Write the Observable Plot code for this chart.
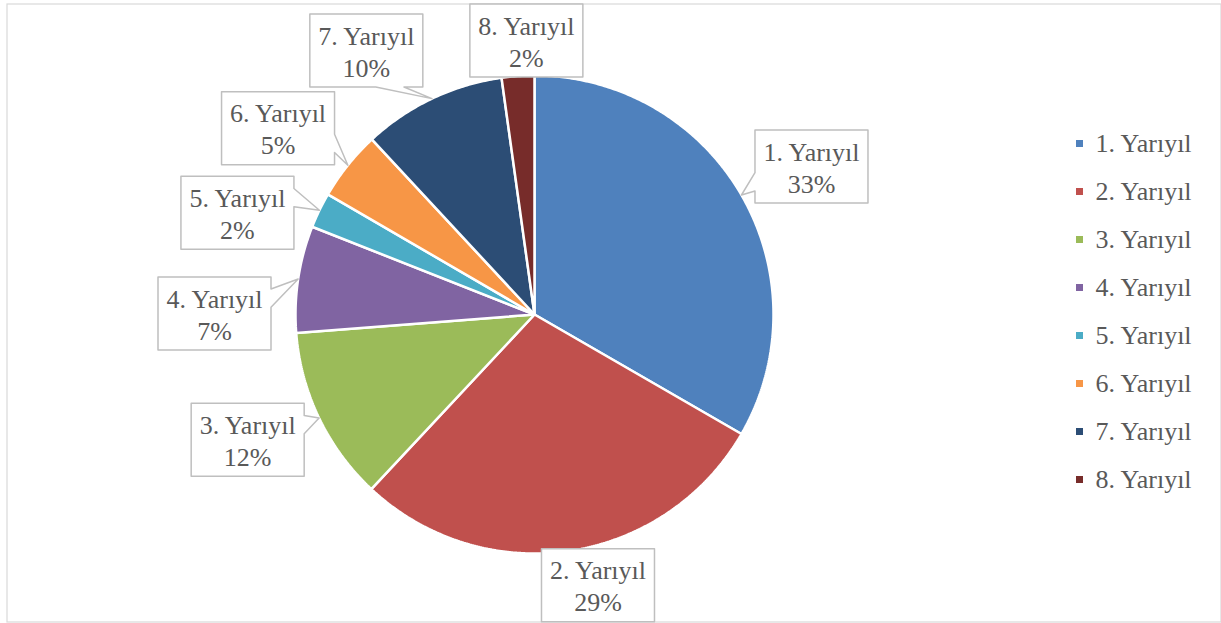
<!DOCTYPE html>
<html><head><meta charset="utf-8">
<script src="https://cdn.jsdelivr.net/npm/d3@7"></script>
<script src="https://cdn.jsdelivr.net/npm/@observablehq/plot@0.6"></script>
<style>body{margin:0;background:#fff;overflow:hidden}</style>
</head><body><div id="chart"></div>
<script>
// ---- data ----
const categories = ["1. Yarıyıl","2. Yarıyıl","3. Yarıyıl","4. Yarıyıl","5. Yarıyıl","6. Yarıyıl","7. Yarıyıl","8. Yarıyıl"];
const shares = [33.3, 28.6, 11.8, 7.2, 2.4, 4.7, 9.7, 2.2];
const colors = ["#4F81BD","#C0504D","#9BBB59","#8064A2","#4BACC6","#F79646","#2C4D75","#772C2A"];
// ---- label layout (degrees clockwise from top, distance from pie centre) ----
const labelAngles = [61.9, 166.8, 246.4, 270.2, 288.9, 306.0, 327.5, 358.3];
const labelDist = [314, 278, 313, 320, 314, 317, 313, 274];

const W = 1221, H = 623, cx = 534, cy = 314, R = 239;
const boxW = 113, boxH = 73;
const font = "Liberation Serif";
const total = d3.sum(shares);
const arcs = d3.pie().sort(null).value(d => d)(shares);
const toXY = (a, r) => [cx + r * Math.sin(a), cy - r * Math.cos(a)];

const slicePts = [];
arcs.forEach((a, i) => {
  slicePts.push({k: categories[i], x: cx, y: cy});
  const n = Math.max(2, Math.ceil((a.endAngle - a.startAngle) / (Math.PI / 360)));
  for (let j = 0; j <= n; j++) {
    const t = a.startAngle + (a.endAngle - a.startAngle) * j / n;
    const [x, y] = toXY(t, R);
    slicePts.push({k: categories[i], x, y});
  }
});

const calloutPts = [], labels = [];
arcs.forEach((a, i) => {
  const mid = (a.startAngle + a.endAngle) / 2;
  const [tx, ty] = toXY(mid, R);
  const [bx, by] = toXY(labelAngles[i] * Math.PI / 180, labelDist[i]);
  const l = bx - boxW / 2, r = bx + boxW / 2, t = by - boxH / 2, b = by + boxH / 2;
  let pts;
  const inside = tx >= l && tx <= r && ty >= t && ty <= b;
  if (inside) {
    pts = [[l, t], [r, t], [r, b], [l, b]];
  } else {
    const dx = (tx - bx) / boxW, dy = (ty - by) / boxH;
    if (Math.abs(dx) > Math.abs(dy)) {
      const y1 = dy < 0 ? t + boxH * 2 / 12 : t + boxH * 7 / 12, y2 = y1 + boxH * 3 / 12;
      pts = dx > 0
        ? [[l, t], [r, t], [r, y1], [tx, ty], [r, y2], [r, b], [l, b]]
        : [[l, t], [r, t], [r, b], [l, b], [l, y2], [tx, ty], [l, y1]];
    } else {
      const x1 = dx < 0 ? l + boxW * 2 / 12 : l + boxW * 7 / 12, x2 = x1 + boxW * 3 / 12;
      pts = dy > 0
        ? [[l, t], [r, t], [r, b], [x2, b], [tx, ty], [x1, b], [l, b]]
        : [[l, t], [x1, t], [tx, ty], [x2, t], [r, t], [r, b], [l, b]];
    }
  }
  pts.forEach(([x, y]) => calloutPts.push({k: categories[i], x, y}));
  labels.push({x: bx, y: by, text: `${categories[i]}\n${Math.round(shares[i] / total * 100)}%`});
});

const legend = categories.map((c, i) => ({k: c, y: 143.5 + 48 * i}));

const chart = Plot.plot({
  width: W, height: H, margin: 0,
  x: {domain: [0, W], range: [0, W], axis: null},
  y: {domain: [0, H], range: [0, H], axis: null},
  color: {domain: categories, range: colors},
  style: {fontFamily: font, background: "white"},
  marks: [
    Plot.frame({stroke: "#d9d9d9", strokeWidth: 1.2, insetLeft: 6.5, insetTop: 3.5, insetRight: 0.5, insetBottom: 1.5}),
    Plot.line(slicePts, {x: "x", y: "y", z: "k", fill: "k", stroke: "white", strokeWidth: 2.5, curve: "linear-closed", strokeLinejoin: "miter"}),
    Plot.line(calloutPts, {x: "x", y: "y", z: "k", fill: "white", stroke: "#bfbfbf", strokeWidth: 1.5, curve: "linear-closed"}),
    Plot.text(labels, {x: "x", y: "y", text: "text", fontSize: 26, lineHeight: 1.23, fill: "#595959", fontFamily: font}),
    Plot.rect(legend, {x1: 1076, x2: 1083, y1: d => d.y - 3.5, y2: d => d.y + 3.5, fill: "k"}),
    Plot.text(legend, {x: 1095, y: "y", text: "k", textAnchor: "start", fontSize: 26, fill: "#595959", fontFamily: font})
  ]
});
document.getElementById("chart").appendChild(chart);
</script>
</body></html>
